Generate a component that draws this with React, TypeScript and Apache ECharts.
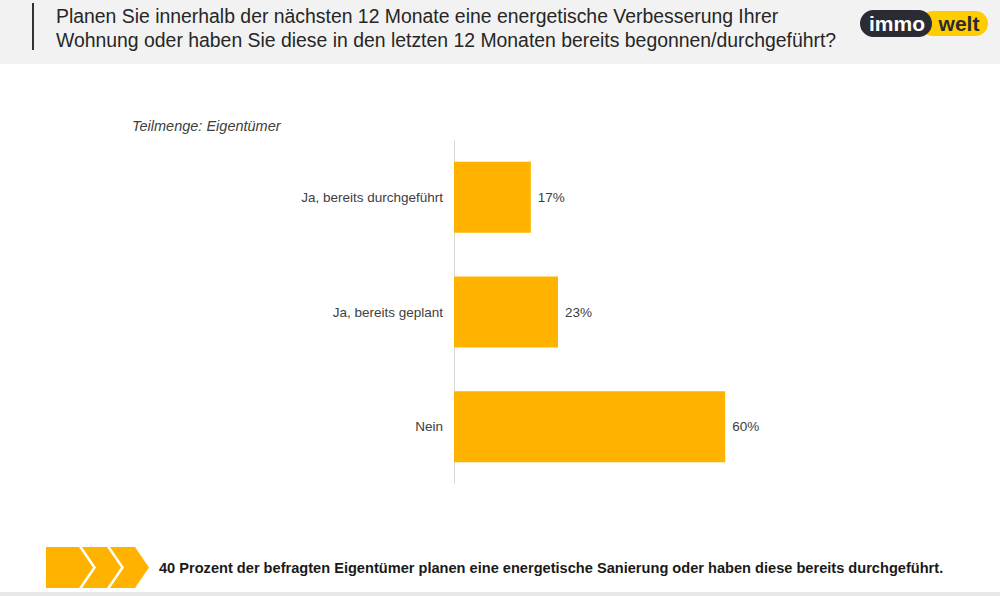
import React, { useEffect, useRef } from "react";
import * as echarts from "echarts";

const categories = ["Ja, bereits durchgeführt", "Ja, bereits geplant", "Nein"];
const values = [17, 23, 60];
const titleLines = [
  "Planen Sie innerhalb der nächsten 12 Monate eine energetische Verbesserung Ihrer",
  "Wohnung oder haben Sie diese in den letzten 12 Monaten bereits begonnen/durchgeführt?",
];
const subsetLabel = "Teilmenge: Eigentümer";
const footerText =
  "40 Prozent der befragten Eigentümer planen eine energetische Sanierung oder haben diese bereits durchgeführt.";

const FONT = "'Liberation Sans', Arial, sans-serif";
const ORANGE = "#FFB300";

export default function App() {
  const ref = useRef<HTMLDivElement>(null);
  useEffect(() => {
    document.body.style.margin = "0";
    const chart = echarts.init(ref.current!, undefined, { renderer: "svg" });
    const chevron = (x: number) => ({
      type: "polygon",
      shape: {
        points: [
          [x, 547],
          [x + 25, 547],
          [x + 39, 567.5],
          [x + 25, 588],
          [x, 588],
          [x + 14, 567.5],
        ],
      },
      style: { fill: ORANGE },
    });
    chart.setOption({
      animation: false,
      backgroundColor: "#ffffff",
      textStyle: { fontFamily: FONT },
      grid: { left: 454, top: 140, width: 452, height: 344 },
      xAxis: {
        type: "value",
        min: 0,
        max: 100,
        show: false,
        splitLine: { show: false },
      },
      yAxis: {
        type: "category",
        data: categories,
        inverse: true,
        axisLine: { show: true, lineStyle: { color: "#d9d9d9", width: 1 } },
        axisTick: { show: false },
        axisLabel: { color: "#404040", fontSize: 13.5, margin: 11, fontFamily: FONT },
      },
      series: [
        {
          type: "bar",
          data: values,
          barWidth: 71,
          itemStyle: { color: ORANGE },
          label: {
            show: true,
            position: "right",
            distance: 7,
            formatter: "{c}%",
            color: "#404040",
            fontSize: 13.5,
            fontFamily: FONT,
          },
        },
      ],
      graphic: [
        { type: "rect", z: -1, shape: { x: 0, y: 0, width: 1000, height: 64 }, style: { fill: "#f2f2f2" } },
        { type: "line", shape: { x1: 33, y1: 3, x2: 33, y2: 50 }, style: { stroke: "#333333", lineWidth: 2 } },
        {
          type: "text",
          x: 56,
          y: 16,
          style: { text: titleLines[0], font: `19.4px ${FONT}`, fill: "#262626", textVerticalAlign: "middle" },
        },
        {
          type: "text",
          x: 56,
          y: 40,
          style: { text: titleLines[1], font: `19.4px ${FONT}`, fill: "#262626", textVerticalAlign: "middle" },
        },
        { type: "rect", shape: { x: 920, y: 11, width: 68, height: 25, r: 12.5 }, style: { fill: "#FFCC00" } },
        { type: "rect", shape: { x: 860, y: 10, width: 72, height: 27, r: 13.5 }, style: { fill: "#2b2b33" } },
        {
          type: "text",
          x: 897,
          y: 23,
          style: {
            text: "immo",
            font: `bold 21px ${FONT}`,
            fill: "#ffffff",
            textAlign: "center",
            textVerticalAlign: "middle",
          },
        },
        {
          type: "text",
          x: 959,
          y: 23,
          style: {
            text: "welt",
            font: `bold 21px ${FONT}`,
            fill: "#2b2b33",
            textAlign: "center",
            textVerticalAlign: "middle",
          },
        },
        {
          type: "text",
          x: 132,
          y: 126,
          style: { text: subsetLabel, font: `italic 14.5px ${FONT}`, fill: "#404040", textVerticalAlign: "middle" },
        },
        {
          type: "polygon",
          shape: {
            points: [
              [46, 547],
              [79, 547],
              [93, 567.5],
              [79, 588],
              [46, 588],
            ],
          },
          style: { fill: ORANGE },
        },
        chevron(82),
        chevron(110),
        {
          type: "text",
          x: 159,
          y: 568,
          style: { text: footerText, font: `bold 14.6px ${FONT}`, fill: "#1a1a1a", textVerticalAlign: "middle" },
        },
        { type: "rect", shape: { x: 0, y: 592, width: 1000, height: 4 }, style: { fill: "#e8e8e8" } },
      ],
    });
    return () => chart.dispose();
  }, []);
  return <div ref={ref} style={{ width: 1000, height: 596 }} />;
}
